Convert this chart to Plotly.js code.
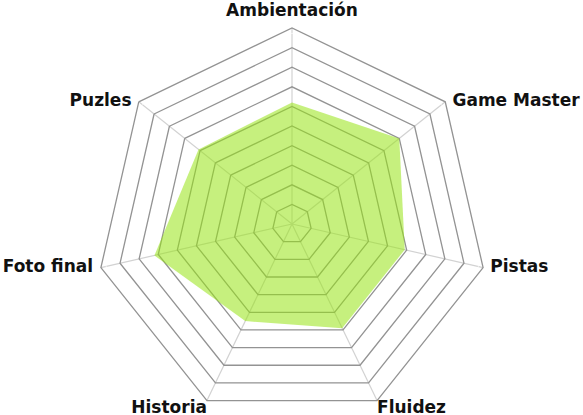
<!DOCTYPE html>
<html>
<head>
<meta charset="utf-8">
<script src="https://cdn.plot.ly/plotly-3.0.1.min.js"></script>
<style>
html,body{margin:0;padding:0;overflow:hidden;background:#fff;}
#chart{width:583px;height:420px;}
</style>
</head>
<body>
<div id="chart"></div>
<script>
var categories = ["Ambientación", "Game Master", "Pistas", "Fluidez", "Historia", "Foto final", "Puzles"];
var scores = [6.2, 7.0, 5.9, 5.9, 5.5, 7.2, 6.1];
var radialTicks = [0, 1, 2, 3, 4, 5, 6, 7, 8, 9, 10];
var labelRadius = [10, 10, 10, 10, 10, 10, 10];
var labelPositions = ["top center", "middle right", "middle right", "bottom right", "bottom left", "middle left", "middle left"];
var labelOffsets = [11, 10, 10, 0, 0, 11, 10];

var trace = {
  type: "scatterpolar",
  r: scores,
  theta: categories,
  fill: "toself",
  fillcolor: "rgba(151,228,20,0.55)",
  mode: "lines",
  line: {width: 0, color: "rgba(151,228,20,0)"},
  hoverinfo: "none"
};

var labels = {
  type: "scatterpolar",
  r: labelRadius,
  theta: categories,
  mode: "markers+text",
  text: categories,
  textposition: labelPositions,
  marker: {size: labelOffsets, color: "rgba(0,0,0,0)"},
  textfont: {family: "DejaVu Sans", size: 17, color: "#111", weight: "bold"},
  cliponaxis: false,
  hoverinfo: "none"
};

var layout = {
  width: 583,
  height: 420,
  margin: {l: 1, r: 0, t: 28, b: 0},
  paper_bgcolor: "#fff",
  showlegend: false,
  polar: {
    bgcolor: "#fff",
    gridshape: "linear",
    radialaxis: {
      range: [0, 10],
      tickvals: radialTicks,
      showticklabels: false,
      ticks: "",
      showline: false,
      gridcolor: "#939393",
      gridwidth: 1.3
    },
    angularaxis: {
      categoryorder: "array",
      categoryarray: categories,
      rotation: 90,
      direction: "clockwise",
      gridcolor: "#d2d2d2",
      gridwidth: 1.2,
      showline: true,
      linecolor: "#939393",
      linewidth: 1.3,
      ticks: "",
      showticklabels: false
    }
  }
};

Plotly.newPlot("chart", [trace, labels], layout, {staticPlot: true, displayModeBar: false});
</script>
</body>
</html>
